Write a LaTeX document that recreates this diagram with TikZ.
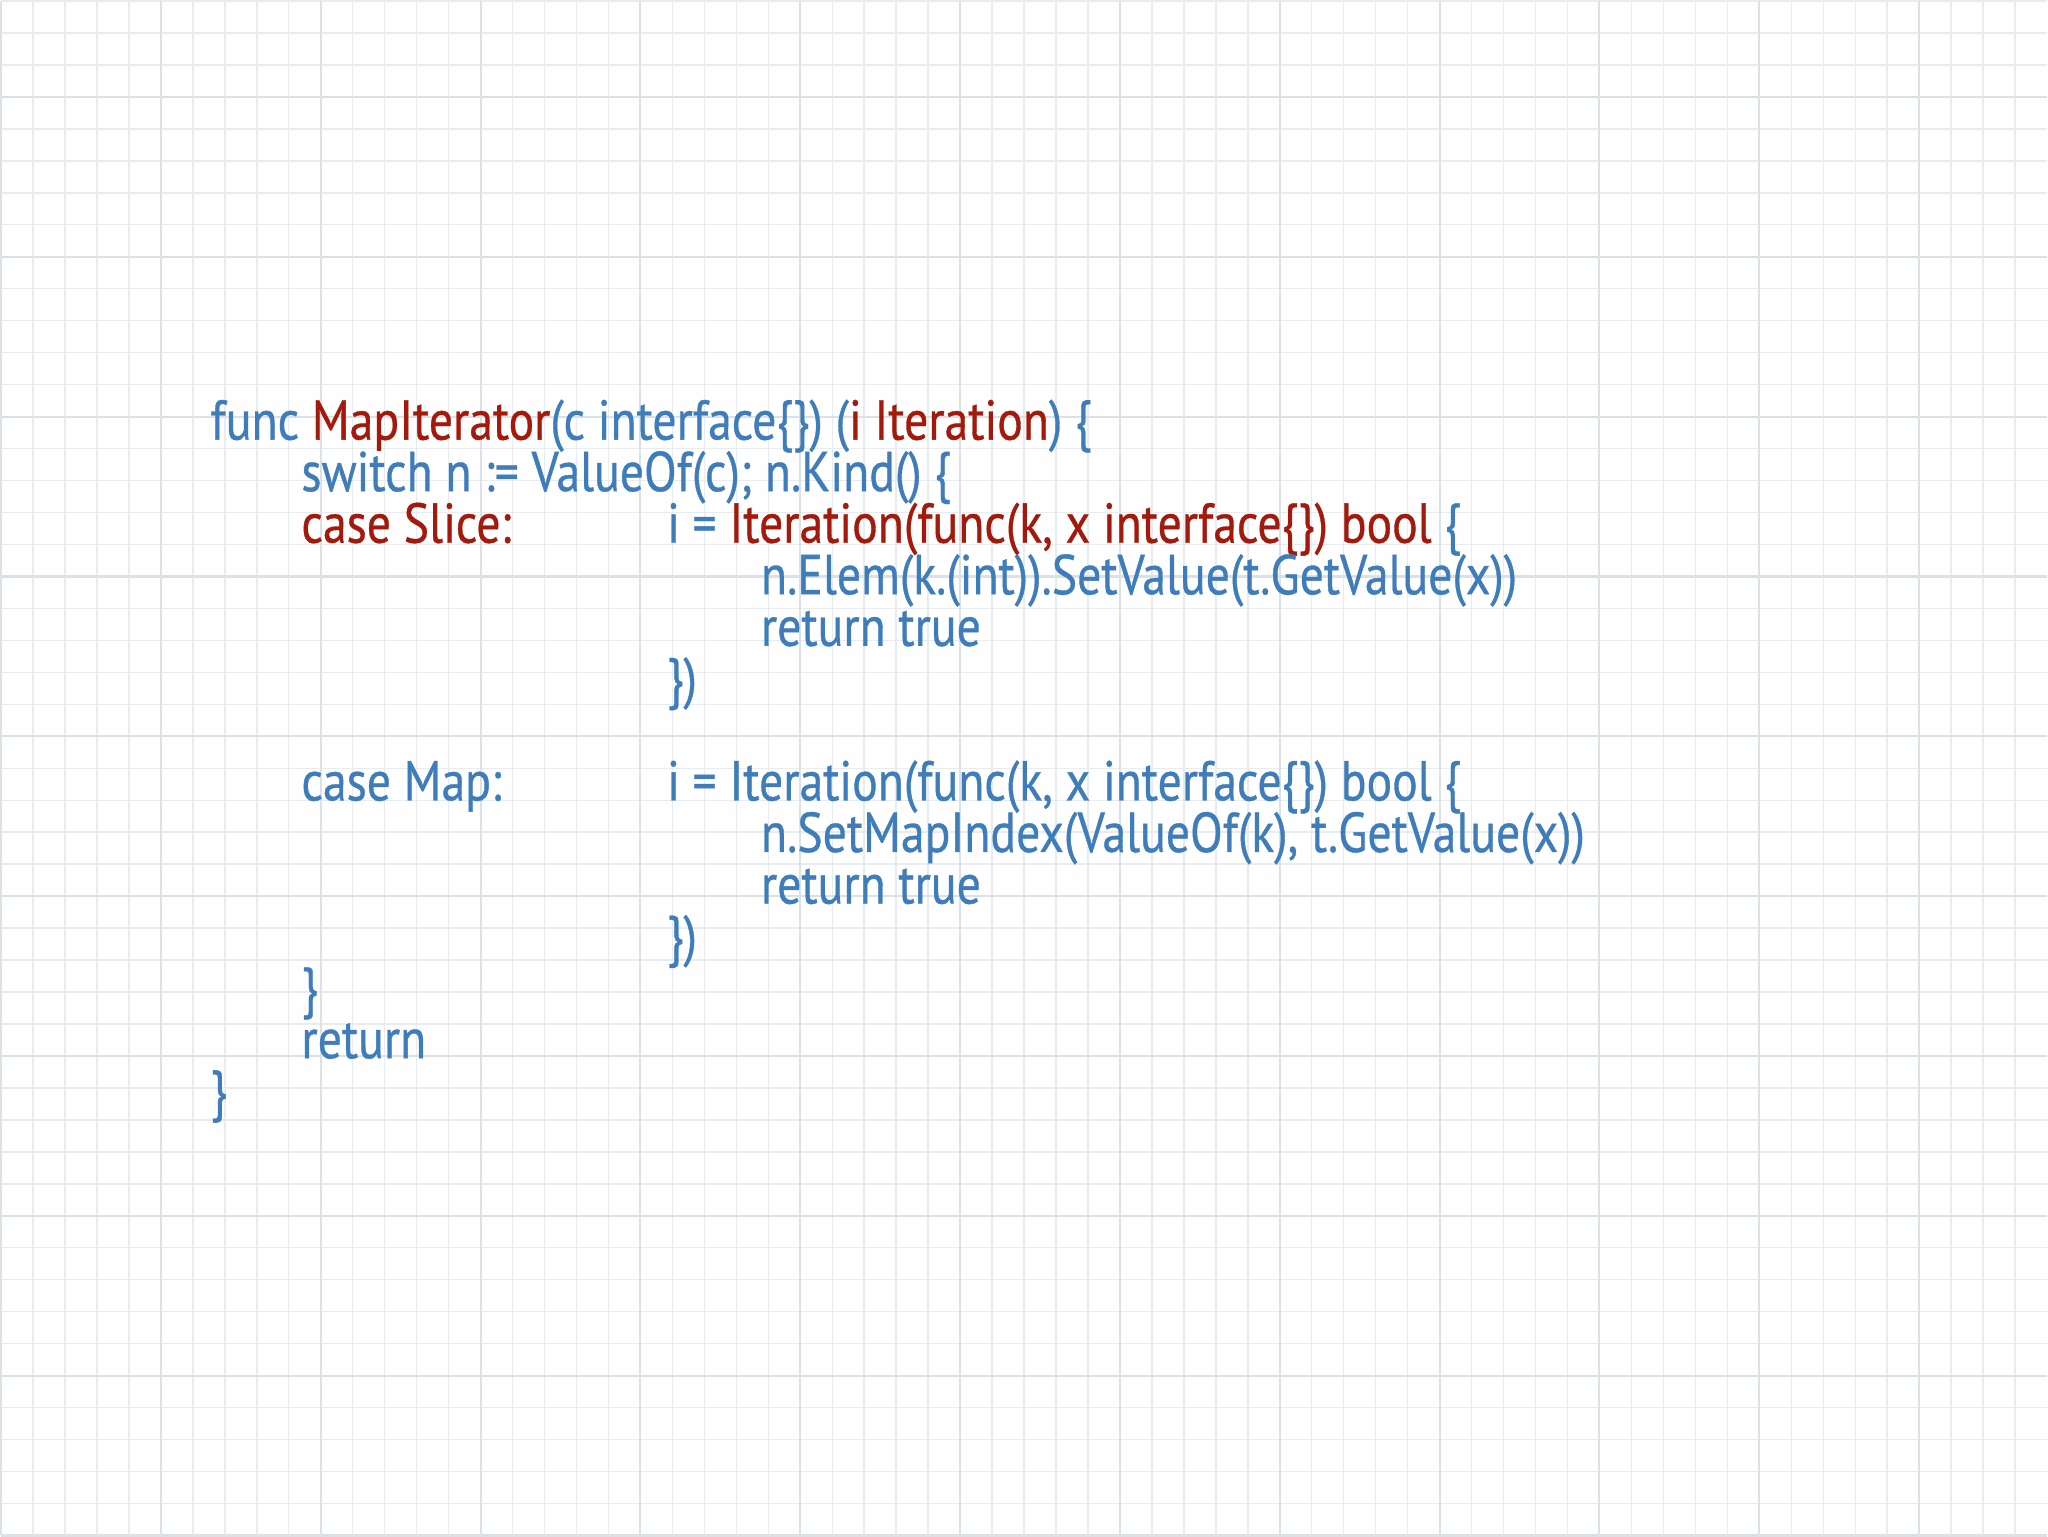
\documentclass[tikz,border=0pt]{standalone}
\usepackage{fontspec}
\setmainfont{PT Sans}[FakeStretch=0.85,FakeBold=0.6]
\definecolor{cb}{HTML}{3F7DBA}
\definecolor{cr}{HTML}{A3190C}
\definecolor{gridc}{HTML}{E6ECF0}
\definecolor{gridm}{HTML}{DAE2E8}
\begin{document}
\begin{tikzpicture}[code/.style={anchor=base west,inner sep=0,text=cb,font=\fontsize{16}{17}\selectfont}]
\fill[white!97!gridc] (0,0) rectangle (20.48,15.36);
\draw[gridc,line width=0.4pt] (0,0) grid[step=0.32] (20.48,15.36);
\draw[gridm,line width=0.6pt] (0,0) grid[step=1.6] (20.48,15.36);
\useasboundingbox (0,0) rectangle (20.48,15.36);
\def\yy#1{10.97-#1*0.516}
\node[code] (l0) at (2.09,{\yy0}) {func \textcolor{cr}{MapIterator}(c interface\{\}) (\textcolor{cr}{i Iteration}) \{};
\node[code] (l1) at (3.00,{\yy1}) {switch n := ValueOf(c); n.Kind() \{};
\node[code,text=cr] (l2) at (3.00,{\yy2}) {case Slice:};
\node[code,text=cr] (l2b) at (6.66,{\yy2}) {\textcolor{cb}{i =} Iteration(func(k, x interface\{\}) bool \textcolor{cb}{\{}};
\node[code] (l3) at (7.60,{\yy3}) {n.Elem(k.(int)).SetValue(t.GetValue(x))};
\node[code] (l4) at (7.60,{\yy4}) {return true};
\node[code] (l5) at (6.66,{\yy5}) {\})};
\node[code] (l7) at (3.00,{\yy7}) {case Map:};
\node[code] (l7b) at (6.66,{\yy7}) {i = Iteration(func(k, x interface\{\}) bool \{};
\node[code] (l8) at (7.60,{\yy8}) {n.SetMapIndex(ValueOf(k), t.GetValue(x))};
\node[code] (l9) at (7.60,{\yy9}) {return true};
\node[code] (l10) at (6.66,{\yy{10}}) {\})};
\node[code] (l11) at (3.00,{\yy{11}}) {\}};
\node[code] (l12) at (3.00,{\yy{12}}) {return};
\node[code] (l13) at (2.09,{\yy{13}}) {\}};
\end{tikzpicture}
\end{document}
